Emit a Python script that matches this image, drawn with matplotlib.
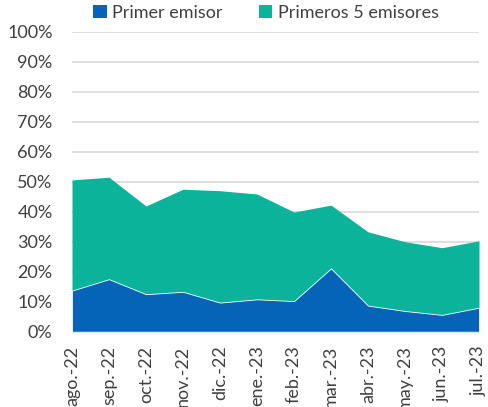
import matplotlib
matplotlib.use("Agg")
import matplotlib.pyplot as plt
from matplotlib.patches import Patch
from matplotlib.ticker import FuncFormatter, MultipleLocator

months = ["ago.-22", "sep.-22", "oct.-22", "nov.-22", "dic.-22", "ene.-23",
          "feb.-23", "mar.-23", "abr.-23", "may.-23", "jun.-23", "jul.-23"]
primer_emisor = [13.7, 17.5, 12.5, 13.3, 9.7, 10.8, 10.2, 21.1, 8.7, 6.9, 5.6, 8.0]
primeros_5 = [50.6, 51.5, 41.9, 47.5, 47.0, 45.9, 39.9, 42.2, 33.3, 30.0, 28.0, 30.3]

plt.rcParams['font.family'] = ['Lato', 'DejaVu Sans']
text_color = "#404040"
blue = "#0563B8"
teal = "#0BB39A"

fig = plt.figure(figsize=(4.89, 4.07), dpi=100)
ax = fig.add_axes([72/489, 1 - 331.7/407, (479-72)/489, (331.7-31.7)/407])

x = list(range(len(months)))
ax.fill_between(x, 0, primeros_5, color=teal, linewidth=0, zorder=2)
ax.fill_between(x, 0, primer_emisor, color=blue, edgecolor="white", linewidth=0.6, zorder=3)

ax.set_xlim(0, len(months) - 1)
ax.set_ylim(0, 100)
ax.yaxis.set_major_locator(MultipleLocator(10))
ax.yaxis.set_major_formatter(FuncFormatter(lambda v, p: f"{int(round(v))}%"))
ax.grid(axis='y', color="#D9D9D9", linewidth=1.2, zorder=0)
ax.set_axisbelow(True)
for s in ax.spines.values():
    s.set_visible(False)
ax.set_xticks(x)
ax.set_xticklabels(months, rotation=90, ha='center', va='top')
ax.tick_params(axis='both', length=0, labelsize=13, colors=text_color)
ax.tick_params(axis='y', pad=14)
ax.tick_params(axis='x', pad=10)

handles = [Patch(facecolor=blue, label="Primer emisor"),
           Patch(facecolor=teal, label="Primeros 5 emisores")]
fig.legend(handles=handles, loc='center', bbox_to_anchor=(266/489, 1 - 13/407),
           ncol=2, frameon=False, fontsize=13, handlelength=0.75, handleheight=0.75,
           handletextpad=0.3, columnspacing=2.0, labelcolor=text_color)

fig.savefig("out.png", dpi=100)
